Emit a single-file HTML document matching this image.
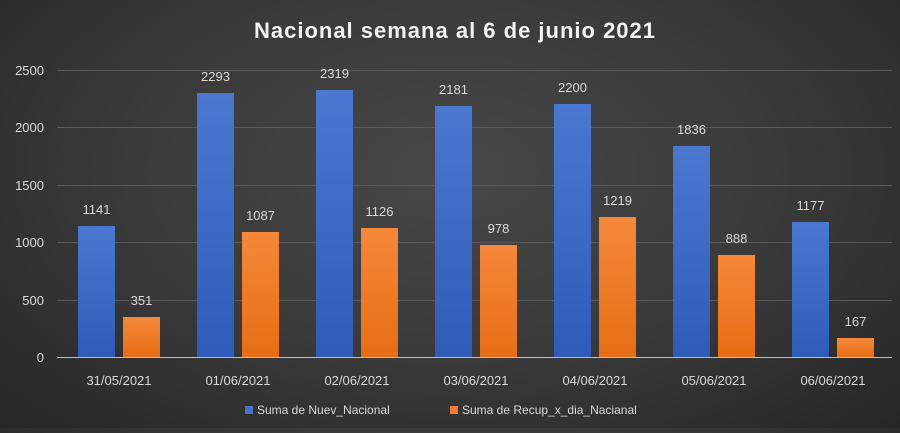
<!DOCTYPE html>
<html><head><meta charset="utf-8"><style>
html,body{margin:0;padding:0}
body{width:900px;height:428px;overflow:hidden;background:radial-gradient(ellipse at 50% 40%,#474747 0%,#3a3a3a 50%,#262626 100%);font-family:"Liberation Sans",sans-serif}
</style></head><body>
<svg width="900" height="428" xmlns="http://www.w3.org/2000/svg" font-family="Liberation Sans, sans-serif">
<defs>
<linearGradient id="b" x1="0" y1="0" x2="0" y2="1"><stop offset="0" stop-color="#4a78cf"/><stop offset="1" stop-color="#2e5bb8"/></linearGradient>
<linearGradient id="o" x1="0" y1="0" x2="0" y2="1"><stop offset="0" stop-color="#f5883a"/><stop offset="1" stop-color="#e86d14"/></linearGradient>
</defs>
<text x="455" y="38" text-anchor="middle" font-size="22" font-weight="bold" fill="#f2f2f2" letter-spacing="1">Nacional semana al 6 de junio 2021</text>
<g stroke="#5a5a5a" stroke-width="1">
<line x1="57" x2="892" y1="70.5" y2="70.5"/><line x1="57" x2="892" y1="127.5" y2="127.5"/>
<line x1="57" x2="892" y1="185.5" y2="185.5"/><line x1="57" x2="892" y1="242.5" y2="242.5"/>
<line x1="57" x2="892" y1="300.5" y2="300.5"/>
</g>
<g font-size="13" fill="#d9d9d9" text-anchor="end">
<text x="44" y="75">2500</text><text x="44" y="132">2000</text><text x="44" y="190">1500</text>
<text x="44" y="247">1000</text><text x="44" y="305">500</text><text x="44" y="362">0</text>
</g>
<g id="bars"></g>
<line x1="57" x2="892" y1="357.5" y2="357.5" stroke="#bfbfbf" stroke-width="1"/>
<g font-size="13" fill="#d9d9d9" text-anchor="middle">
<rect x="78" y="226" width="37" height="131" fill="url(#b)"/><text x="96.5" y="214">1141</text>
<rect x="123" y="317" width="37" height="40" fill="url(#o)"/><text x="141.5" y="305">351</text>
<rect x="197" y="93" width="37" height="264" fill="url(#b)"/><text x="215.5" y="81">2293</text>
<rect x="242" y="232" width="37" height="125" fill="url(#o)"/><text x="260.5" y="220">1087</text>
<rect x="316" y="90" width="37" height="267" fill="url(#b)"/><text x="334.5" y="78">2319</text>
<rect x="361" y="228" width="37" height="129" fill="url(#o)"/><text x="379.5" y="216">1126</text>
<rect x="435" y="106" width="37" height="251" fill="url(#b)"/><text x="453.5" y="94">2181</text>
<rect x="480" y="245" width="37" height="112" fill="url(#o)"/><text x="498.5" y="233">978</text>
<rect x="554" y="104" width="37" height="253" fill="url(#b)"/><text x="572.5" y="92">2200</text>
<rect x="599" y="217" width="37" height="140" fill="url(#o)"/><text x="617.5" y="205">1219</text>
<rect x="673" y="146" width="37" height="211" fill="url(#b)"/><text x="691.5" y="134">1836</text>
<rect x="718" y="255" width="37" height="102" fill="url(#o)"/><text x="736.5" y="243">888</text>
<rect x="792" y="222" width="37" height="135" fill="url(#b)"/><text x="810.5" y="210">1177</text>
<rect x="837" y="338" width="37" height="19" fill="url(#o)"/><text x="855.5" y="326">167</text>
</g>
<g font-size="13" fill="#d9d9d9" text-anchor="middle">
<text x="119" y="385">31/05/2021</text><text x="238" y="385">01/06/2021</text><text x="357" y="385">02/06/2021</text>
<text x="476" y="385">03/06/2021</text><text x="595" y="385">04/06/2021</text><text x="714" y="385">05/06/2021</text>
<text x="833" y="385">06/06/2021</text>
</g>
<rect x="245" y="406" width="8" height="8" fill="#4472c4"/>
<text x="257" y="414" font-size="12" fill="#d9d9d9">Suma de Nuev_Nacional</text>
<rect x="450" y="406" width="8" height="8" fill="#ed7d31"/>
<text x="462" y="414" font-size="12" fill="#d9d9d9">Suma de Recup_x_dia_Nacianal</text>
</svg>
</body></html>
